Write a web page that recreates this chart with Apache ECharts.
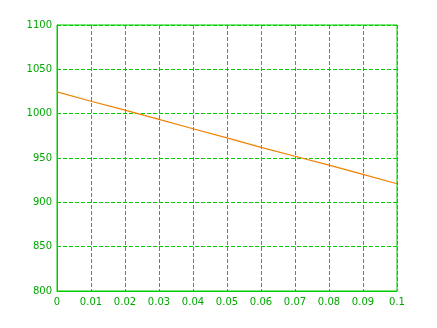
<!DOCTYPE html>
<html>
<head>
<meta charset="utf-8">
<script src="https://cdn.jsdelivr.net/npm/echarts@6/dist/echarts.min.js"></script>
<style>html,body{margin:0;padding:0;background:#fff}#c{width:437px;height:328px}</style>
</head>
<body>
<div id="c"></div>
<script>
var xValues = [0, 0.01, 0.02, 0.03, 0.04, 0.05, 0.06, 0.07, 0.08, 0.09, 0.1];
var yValues = [1024.5, 1014, 1004, 993.5, 983, 972.7, 962, 952, 942, 931.5, 921];
var green = '#00cc00';
var labelGreen = '#00a800';
var chart = echarts.init(document.getElementById('c'), null, {renderer: 'canvas'});
var axisCommon = {
  axisLine: {show: true, lineStyle: {color: green, width: 1}},
  axisTick: {show: false},
  splitLine: {show: true, lineStyle: {color: green, type: [4, 2], width: 1}},
  axisLabel: {color: labelGreen, fontSize: 10, fontFamily: 'DejaVu Sans'}
};
chart.setOption({
  animation: false,
  backgroundColor: '#fff',
  grid: {left: 57, top: 25, right: 40, bottom: 37, show: true, borderColor: green, borderWidth: 1},
  xAxis: Object.assign({}, axisCommon, {
    type: 'value', min: 0, max: 0.1, interval: 0.01,
    axisLabel: Object.assign({}, axisCommon.axisLabel, {margin: 6, formatter: function(v){return String(+v.toFixed(2));}})
  }),
  yAxis: Object.assign({}, axisCommon, {
    type: 'value', min: 800, max: 1100, interval: 50,
    axisLabel: Object.assign({}, axisCommon.axisLabel, {margin: 5, formatter: function(v){return String(v);}})
  }),
  series: [{
    type: 'line',
    data: xValues.map(function(x, i){return [x, yValues[i]];}),
    showSymbol: false,
    lineStyle: {color: '#f08000', width: 1.2},
    itemStyle: {color: '#f08000'}
  }]
});
</script>
</body>
</html>
